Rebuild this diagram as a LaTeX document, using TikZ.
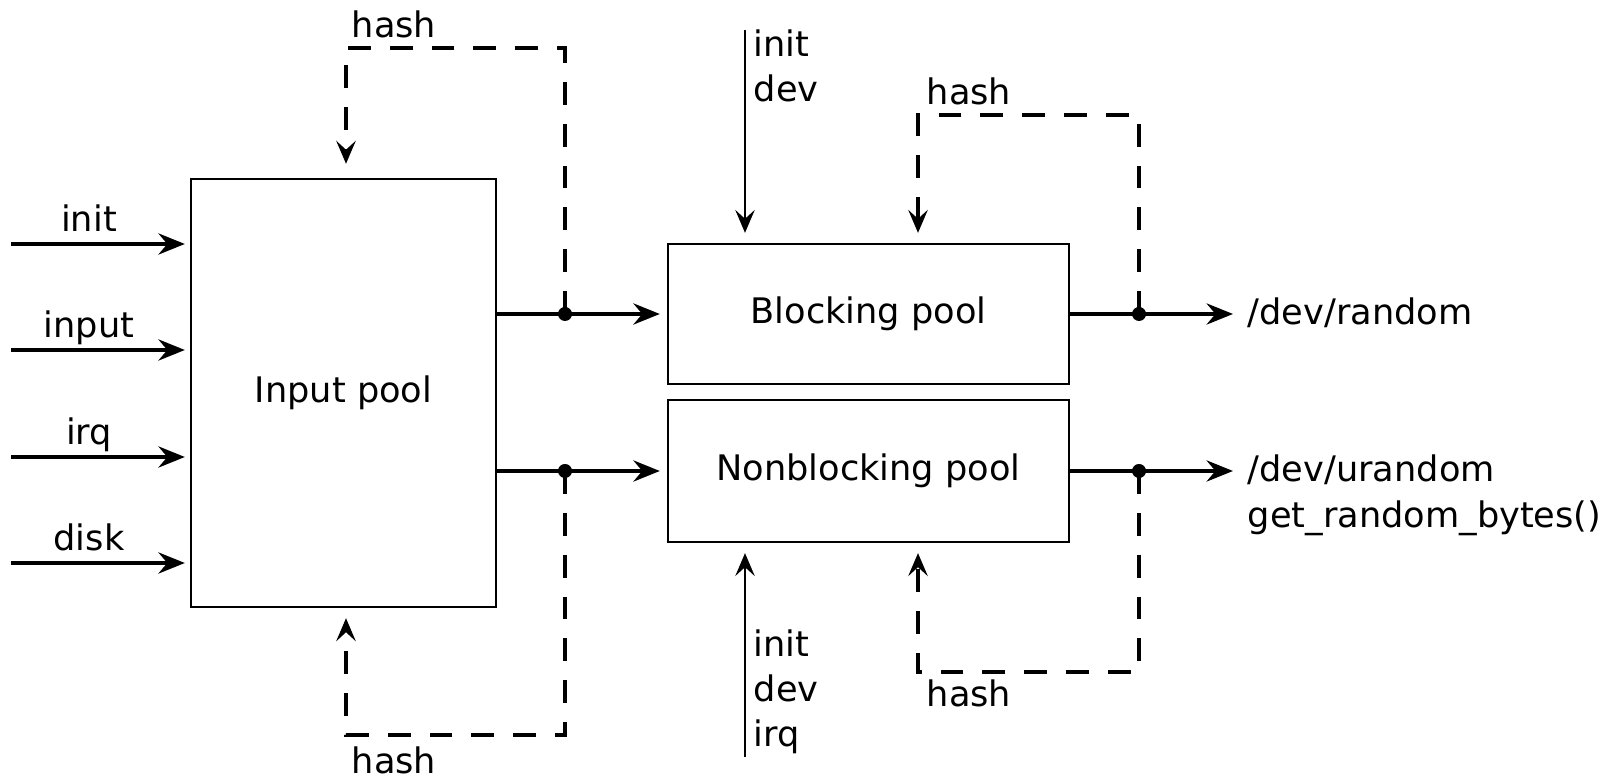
\documentclass[tikz,border=0pt]{standalone}
\usepackage{fontspec}
\setmainfont{DejaVu Sans}
\usetikzlibrary{arrows.meta}

\begin{document}
\begin{tikzpicture}[x=0.01cm,y=-0.01cm,
flow/.style = {line width=1.1pt,
        -{Stealth[length=7.5pt,width=6pt,inset=2.5pt]},
            },
feed/.style = {line width=1pt,dash pattern=on 6.5pt off 5.4pt,
        -{Stealth[length=6.5pt,width=5.5pt,inset=2.5pt]},
            },
seed/.style = {line width=0.8pt,
        -{Stealth[length=6.5pt,width=5.5pt,inset=2.5pt]},
            },
pool/.style = {draw,line width=0.6pt,inner sep=0pt},
every node/.append style = {font=\fontsize{10}{12}\selectfont}]

        \useasboundingbox (0,0) rectangle (1619,777);

        \node[pool,minimum width=3.05cm,minimum height=4.28cm] (inpool) at (343.5,393) {Input pool};
        \node[pool,minimum width=4.01cm,minimum height=1.40cm] (blkpool) at (868.5,314) {Blocking pool};
        \node[pool,minimum width=4.01cm,minimum height=1.42cm] (nbpool) at (868.5,471) {Nonblocking pool};

        % entropy sources
        \foreach \src/\yy in {init/244,input/350,irq/457,disk/563}{
            \coordinate (\src_in) at (11,\yy);
            \draw[flow,shorten >=0.05cm] (\src_in) -- (\src_in -| inpool.west);
            \node[anchor=base,inner sep=0pt] (\src_lbl) at (89,\yy-12) {\src};
        }

        \coordinate (tapb) at (565,314);
        \coordinate (tapn) at (565,471);
        \draw[flow,shorten >=0.07cm] (inpool.east |- blkpool.west) -- (blkpool.west);
        \draw[flow,shorten >=0.07cm] (inpool.east |- nbpool.west) -- (nbpool.west);

        \coordinate (ihtr) at (565,48);
        \coordinate (ihtl) at (346,48);
        \coordinate (ihbr) at (565,735);
        \coordinate (ihbl) at (346,735);
        \draw[feed,shorten >=0.14cm] (tapb) -- (ihtr) -- (ihtl) -- (ihtl |- inpool.north);
        \draw[feed,shorten >=0.10cm] (tapn) -- (ihbr) -- (ihbl) -- (ihbl |- inpool.south);
        \node[anchor=base,inner sep=0pt] (ihtlbl) at (394,38) {hash};
        \node[anchor=base,inner sep=0pt] (ihblbl) at (394,773) {hash};

        % outputs
        \node[anchor=base west,inner sep=0pt] (devrnd) at (1247,325) {/dev/random};
        \node[anchor=base west,inner sep=0pt] (devurnd) at (1247,482) {/dev/urandom};
        \node[anchor=base west,inner sep=0pt] (getrnd) at (1247,528) {get\_random\_bytes()};
        \draw[flow,shorten >=0.14cm] (blkpool.east) -- (blkpool.east -| devrnd.west);
        \draw[flow,shorten >=0.14cm] (nbpool.east) -- (nbpool.east -| devurnd.west);

        \coordinate (tapbr) at (1139,314);
        \coordinate (tapnr) at (1139,471);
        \coordinate (bhtr) at (1139,115);
        \coordinate (bhtl) at (918,115);
        \coordinate (nhbr) at (1139,672);
        \coordinate (nhbl) at (918,672);
        \draw[feed,shorten >=0.10cm] (tapbr) -- (bhtr) -- (bhtl) -- (bhtl |- blkpool.north);
        \draw[feed,shorten >=0.10cm] (tapnr) -- (nhbr) -- (nhbl) -- (nhbl |- nbpool.south);
        \node[anchor=base,inner sep=0pt] (bhtlbl) at (969,105) {hash};
        \node[anchor=base,inner sep=0pt] (nhblbl) at (969,706) {hash};

        % direct feeds
        \coordinate (bsrc) at (745,30);
        \coordinate (nsrc) at (745,757);
        \draw[seed,shorten >=0.10cm] (bsrc) -- (bsrc |- blkpool.north);
        \draw[seed,shorten >=0.10cm] (nsrc) -- (nsrc |- nbpool.south);
        \node[anchor=base west,inner sep=0pt] (binit) at (753,57) {init};
        \node[anchor=base west,inner sep=0pt] (bdev) at (753,102) {dev};
        \node[anchor=base west,inner sep=0pt] (ninit) at (753,657) {init};
        \node[anchor=base west,inner sep=0pt] (ndev) at (753,702) {dev};
        \node[anchor=base west,inner sep=0pt] (nirq) at (753,746) {irq};

        \foreach \tap in {tapb,tapn,tapbr,tapnr}
            \fill (\tap) circle (0.07cm);

    \end{tikzpicture}
\end{document}
